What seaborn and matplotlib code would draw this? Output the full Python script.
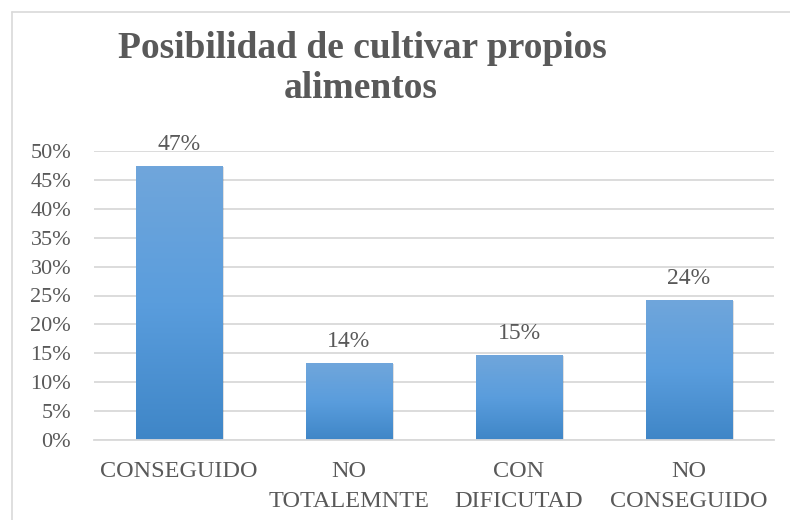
import numpy as np
import pandas as pd
import matplotlib
matplotlib.use("Agg")
import matplotlib.pyplot as plt
import seaborn as sns
from matplotlib.colors import LinearSegmentedColormap
from matplotlib.patches import Rectangle
from matplotlib.lines import Line2D

categories = ["CONSEGUIDO", "NO\nTOTALEMNTE", "CON\nDIFICUTAD", "NO\nCONSEGUIDO"]
values = [0.474, 0.133, 0.147, 0.243]
labels = ["47%", "14%", "15%", "24%"]
yticks = [0, 0.05, 0.10, 0.15, 0.20, 0.25, 0.30, 0.35, 0.40, 0.45, 0.50]
ytick_labels = ["0%", "5%", "10%", "15%", "20%", "25%", "30%", "35%", "40%", "45%", "50%"]
title_lines = ["Posibilidad de cultivar propios", "alimentos"]

sns.set_theme(style="white")
plt.rcParams["font.family"] = ["Liberation Serif", "DejaVu Serif"]
txt = "#595959"

fig = plt.figure(figsize=(7.9, 5.2), dpi=100)
ax = fig.add_axes([94/790, 1 - 440/520, 680/790, 289/520])

df = pd.DataFrame({"cat": categories, "val": values})
sns.barplot(data=df, x="cat", y="val", ax=ax, width=0.506, color="#5b9bd5",
            edgecolor="none", saturation=1)

ax.set_ylim(0, 0.5)
ax.set_xlim(-0.5, 3.5)
ax.set_yticks(yticks)
ax.set_yticklabels(ytick_labels, fontsize=16, color=txt)
ax.tick_params(axis="x", labelsize=17.5, labelcolor=txt, length=0, pad=15)
ax.tick_params(axis="y", length=0, pad=16.5)
for t in ax.get_xticklabels():
    t.set_linespacing(1.6)
ax.set_xlabel("")
ax.set_ylabel("")
ax.grid(axis="y", color="#d9d9d9", linewidth=1.3)
ax.set_axisbelow(True)
for s in ["top", "right", "left"]:
    ax.spines[s].set_visible(False)
ax.spines["bottom"].set_color("#d9d9d9")
ax.spines["bottom"].set_linewidth(1.3)

cmap = LinearSegmentedColormap.from_list("g", ["#3f86c7", "#5a9ddd", "#70a6db"])
grad = np.linspace(0, 1, 256).reshape(-1, 1)
for p in list(ax.patches):
    x0, y0 = p.get_x(), p.get_y()
    w, h = p.get_width(), p.get_height()
    sh = Rectangle((x0 + 0.012, y0), w, h - 0.002, facecolor="#000000", alpha=0.12,
                   edgecolor="none", zorder=p.get_zorder() - 0.1)
    ax.add_patch(sh)
    im = ax.imshow(grad, extent=[x0, x0 + w, y0, y0 + h], origin="lower",
                   aspect="auto", cmap=cmap, zorder=p.get_zorder() + 0.1)
    im.set_clip_path(p)

for i, (v, lab) in enumerate(zip(values, labels)):
    ax.annotate(lab, (i, v), xytext=(0, 11.5), textcoords="offset points",
                ha="center", va="baseline", fontsize=17, color=txt)

ax.set_xlim(-0.5, 3.5)
ax.set_ylim(0, 0.5)

fig.text(362/790, 1 - 58/520, title_lines[0], ha="center", va="baseline", fontsize=27,
         fontweight="bold", color=txt)
fig.text(361/790, 1 - 98/520, title_lines[1], ha="center", va="baseline", fontsize=27,
         fontweight="bold", color=txt)

fig.lines.append(Line2D([12/790, 1], [1 - 12/520, 1 - 12/520], transform=fig.transFigure,
                        color="#d9d9d9", linewidth=1.2))
fig.lines.append(Line2D([12/790, 12/790], [0, 1 - 12/520], transform=fig.transFigure,
                        color="#d9d9d9", linewidth=1.2))

fig.savefig("out.png", dpi=100)
